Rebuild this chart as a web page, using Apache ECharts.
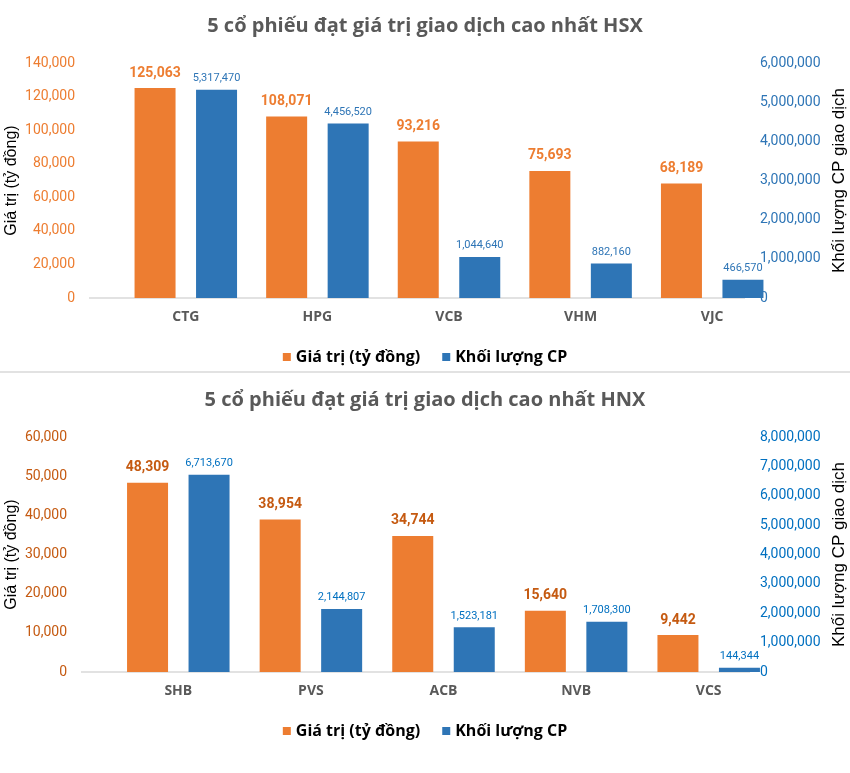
<!DOCTYPE html>
<html>
<head>
<meta charset="utf-8">
<script src="https://cdn.jsdelivr.net/npm/echarts@6/dist/echarts.min.js"></script>
<style>
html,body{margin:0;padding:0;background:#fff;}
#c{width:850px;height:773px;}
</style>
</head>
<body>
<div id="c"></div>
<script>
// Top chart (HSX)
const hsxTitle = '5 cổ phiếu đạt giá trị giao dịch cao nhất HSX';
const hsxCategories = ['CTG', 'HPG', 'VCB', 'VHM', 'VJC'];
const hsxValue = [125063, 108071, 93216, 75693, 68189];
const hsxVolume = [5317470, 4456520, 1044640, 882160, 466570];

// Bottom chart (HNX)
const hnxTitle = '5 cổ phiếu đạt giá trị giao dịch cao nhất HNX';
const hnxCategories = ['SHB', 'PVS', 'ACB', 'NVB', 'VCS'];
const hnxValue = [48309, 38954, 34744, 15640, 9442];
const hnxVolume = [6713670, 2144807, 1523181, 1708300, 144344];

const seriesNames = ['Giá trị (tỷ đồng)', 'Khối lượng CP'];
const leftAxisName = 'Giá trị (tỷ đồng)';
const rightAxisName = 'Khối lượng CP giao dịch';

const ORANGE = '#ED7D31';
const BLUE = '#2E75B6';
const fmt = v => Number(v).toLocaleString('en-US');

const chart = echarts.init(document.getElementById('c'), null, {renderer: 'canvas'});

function valueAxis(gridIndex, max, interval, color, name, nameGap, nameSize, side, offset) {
  return {
    type: 'value', gridIndex, min: 0, max, interval, position: side,
    offset: offset || 0,
    name, nameLocation: 'middle', nameGap, nameRotate: 90, nameMoveOverlap: false,
    nameTextStyle: {color: '#000', fontSize: nameSize, fontFamily: 'Liberation Sans'},
    axisLine: {show: false}, axisTick: {show: false}, splitLine: {show: false},
    axisLabel: {color, fontSize: 14, fontFamily: 'Roboto', formatter: fmt, margin: side === 'left' ? 45 : 0}
  };
}

function catAxis(gridIndex, data) {
  return {
    type: 'category', gridIndex, data,
    axisLine: {show: false}, axisTick: {show: false},
    axisLabel: {color: '#595959', fontSize: 14, fontWeight: 'bold', fontFamily: 'Open Sans', margin: 12}
  };
}

function barSeries(name, xi, yi, data, color, labelColor, labelSize, bold, dist) {
  return {
    name, type: 'bar', xAxisIndex: xi, yAxisIndex: yi, data,
    barWidth: 41, barGap: '50%',
    itemStyle: {color},
    label: {
      show: true, position: 'top', distance: dist, color: labelColor,
      fontSize: labelSize, fontWeight: bold ? 'bold' : 'normal',
      fontFamily: 'Roboto', formatter: p => fmt(p.value)
    }
  };
}

const option = {
  animation: false,
  backgroundColor: '#fff',
  title: [
    {text: hsxTitle, left: 'center', top: 16, padding: 0,
     textStyle: {color: '#595959', fontSize: 20, fontWeight: 'bold', fontFamily: 'Open Sans'}},
    {text: hnxTitle, left: 'center', top: 390, padding: 0,
     textStyle: {color: '#595959', fontSize: 20, fontWeight: 'bold', fontFamily: 'Open Sans'}}
  ],
  legend: [
    {data: seriesNames.map((n, i) => ({name: n, itemStyle: {color: i ? BLUE : ORANGE}})),
     left: 'center', top: 344, itemWidth: 8, itemHeight: 8, itemGap: 22, icon: 'rect',
     textStyle: {color: '#000', fontSize: 16, fontWeight: 'bold', fontFamily: 'Open Sans'}},
  ],
  grid: [
    {left: 120, right: 72, top: 63, height: 235, outerBoundsMode: 'none', containLabel: false},
    {left: 112, right: 75, top: 437, height: 235, outerBoundsMode: 'none', containLabel: false}
  ],
  xAxis: [catAxis(0, hsxCategories), catAxis(1, hnxCategories)],
  yAxis: [
    valueAxis(0, 140000, 20000, ORANGE, leftAxisName, 100, 16, 'left'),
    valueAxis(0, 6000000, 1000000, BLUE, rightAxisName, 71, 17, 'right', -18),
    valueAxis(1, 60000, 10000, '#C55A11', leftAxisName, 92, 16, 'left'),
    valueAxis(1, 8000000, 1000000, '#0070C0', rightAxisName, 71, 17, 'right', -15)
  ],
  series: [
    barSeries(seriesNames[0], 0, 0, hsxValue, ORANGE, ORANGE, 14, true, 8),
    barSeries(seriesNames[1], 0, 1, hsxVolume, BLUE, BLUE, 11, false, 6),
    barSeries(seriesNames[0], 1, 2, hnxValue, ORANGE, '#C55A11', 14, true, 8),
    barSeries(seriesNames[1], 1, 3, hnxVolume, BLUE, '#0070C0', 11, false, 6)
  ],
  graphic: [
    {type: 'line', shape: {x1: 0, y1: 372, x2: 850, y2: 372}, style: {stroke: '#d9d9d9', lineWidth: 1.5}, silent: true},
    {type: 'line', shape: {x1: 89, y1: 298, x2: 745, y2: 298}, style: {stroke: '#d9d9d9', lineWidth: 1.5}, silent: true, z: 0},
    {type: 'line', shape: {x1: 81, y1: 672, x2: 750, y2: 672}, style: {stroke: '#d9d9d9', lineWidth: 1.5}, silent: true, z: 0}
  ]
};
// second legend, same series names (legend applies to all series of that name)
option.legend.push(Object.assign({}, option.legend[0], {top: 718}));
chart.setOption(option);
</script>
</body>
</html>
